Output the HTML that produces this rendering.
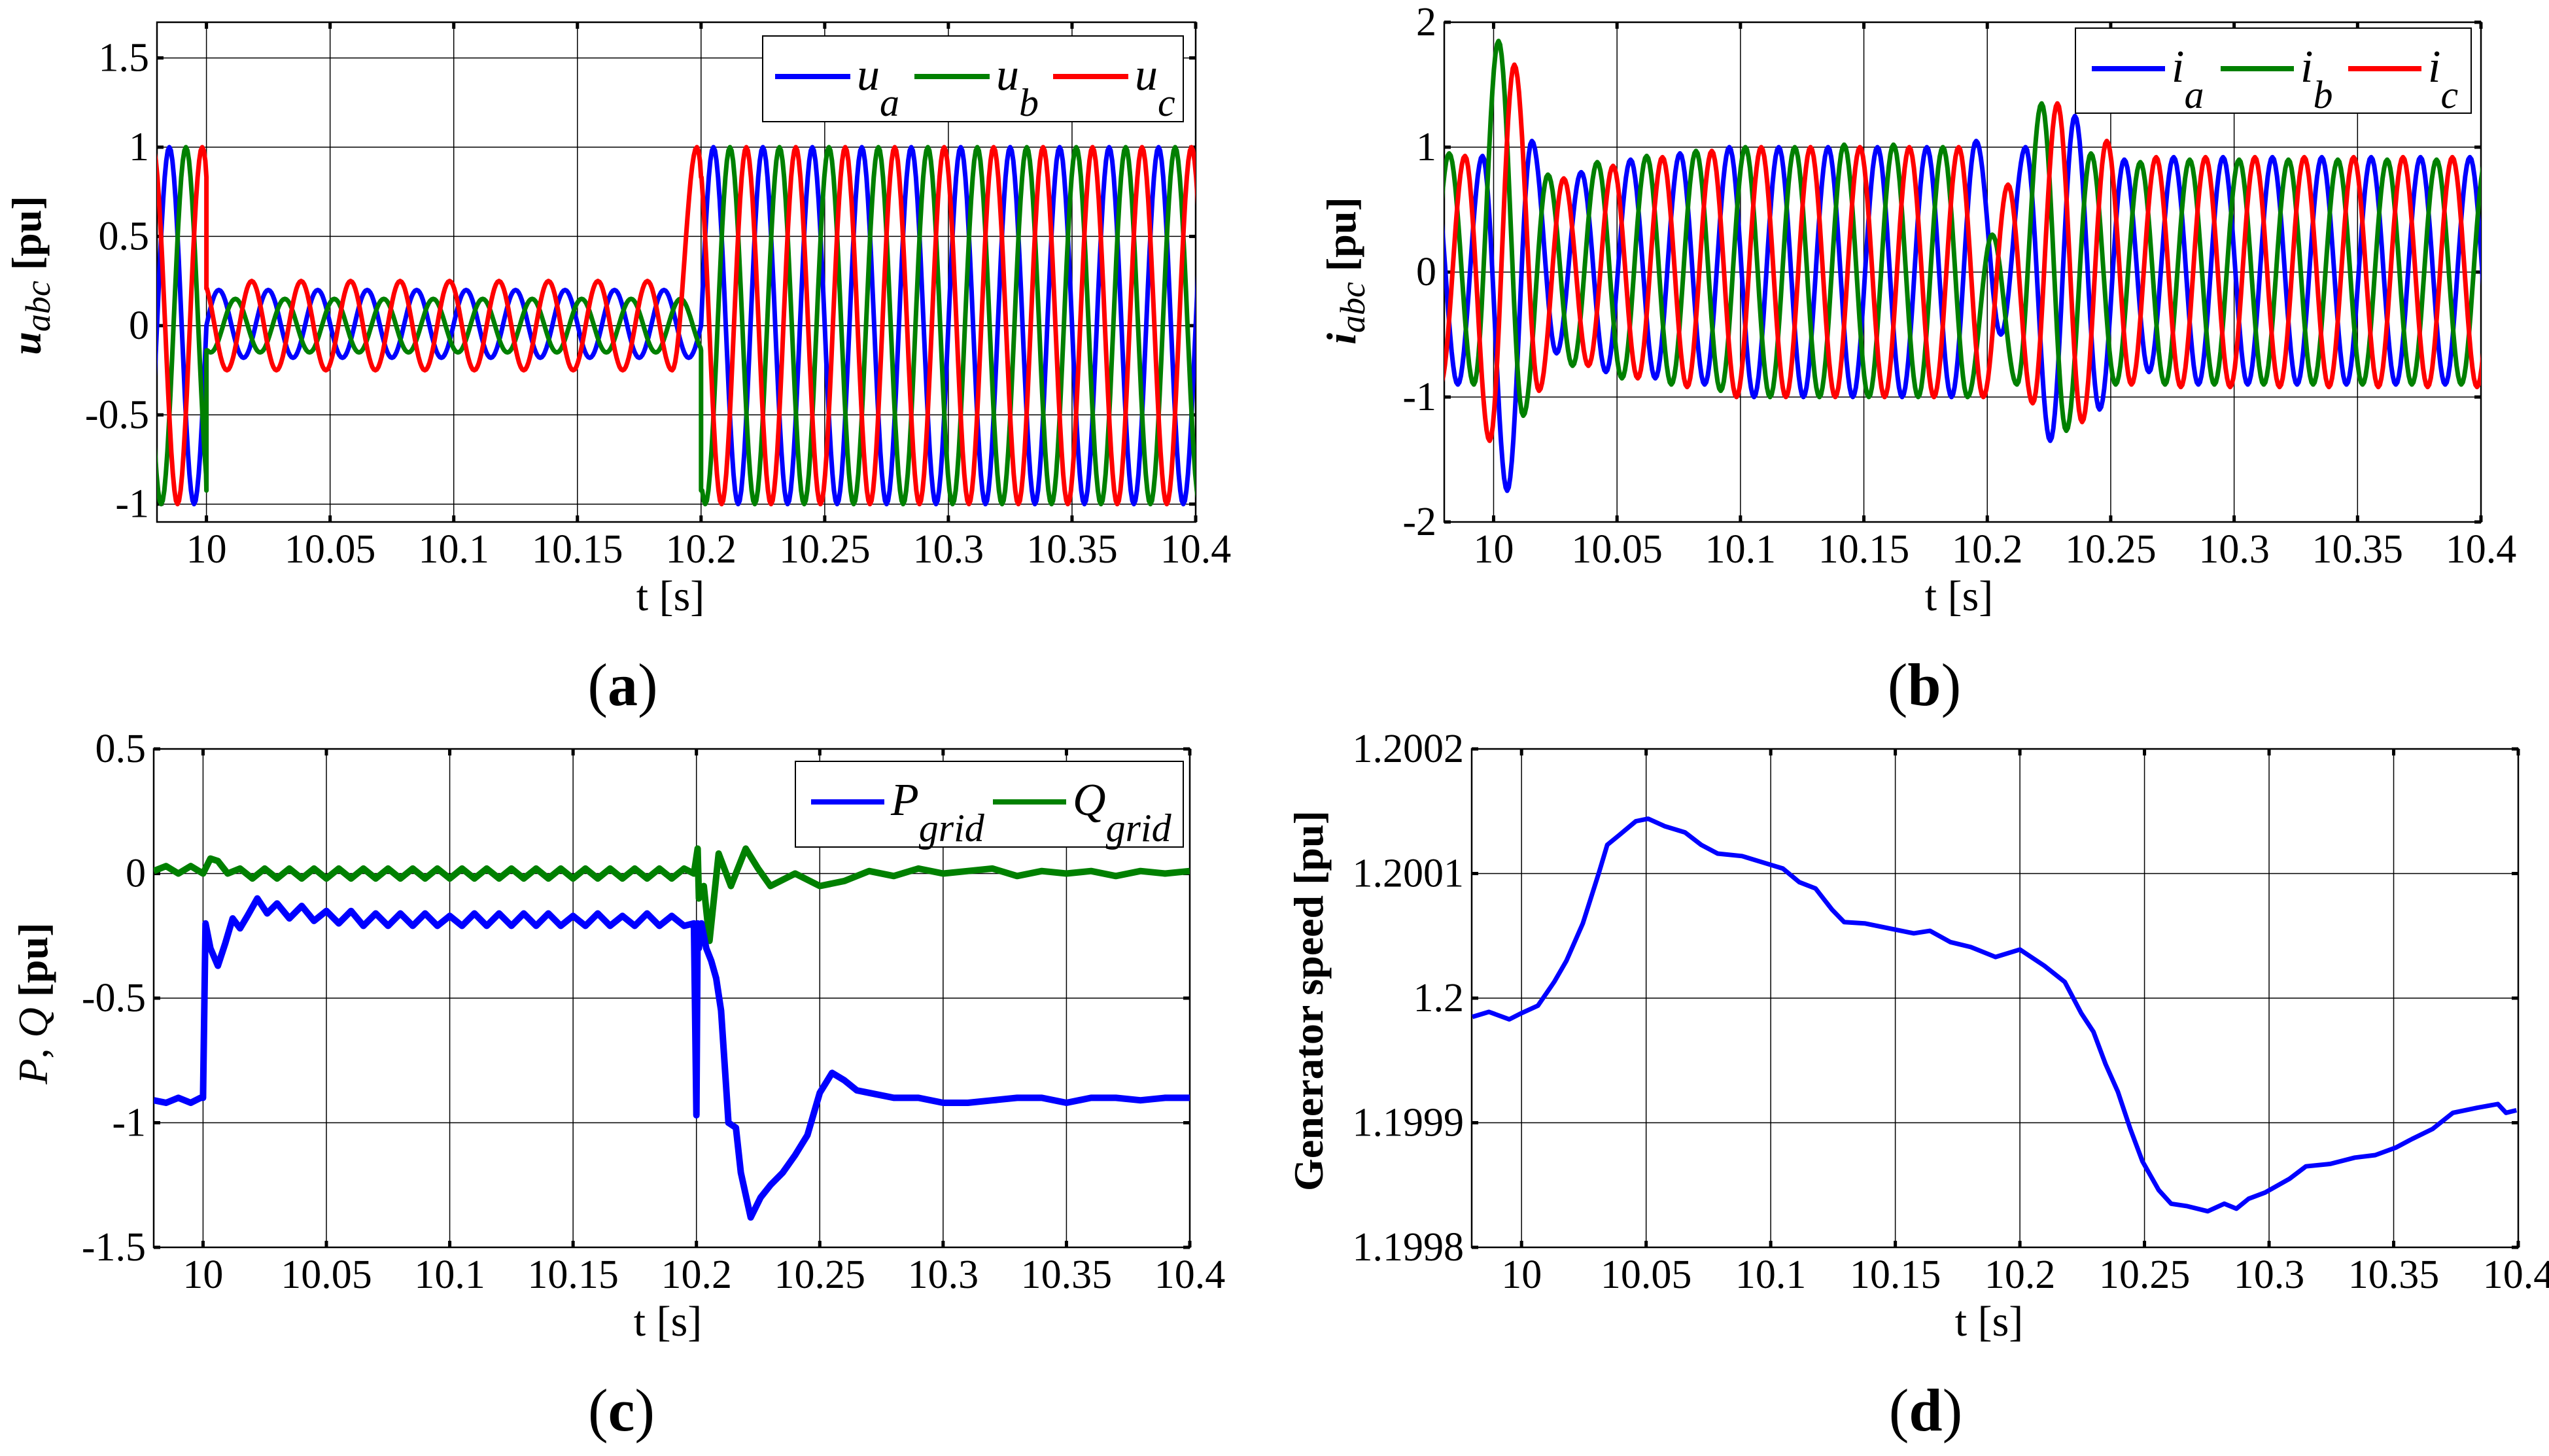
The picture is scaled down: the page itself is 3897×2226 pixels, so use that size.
<!DOCTYPE html>
<html><head><meta charset="utf-8">
<style>
html,body{margin:0;padding:0;background:#fff;}
svg{display:block;}
</style></head>
<body>
<svg id="fig" xmlns="http://www.w3.org/2000/svg" width="3897" height="2226" viewBox="0 0 3897 2226" font-family="'Liberation Serif', serif">
<rect x="0" y="0" width="3897" height="2226" fill="#fff"/>
</svg>
<script>
// ---------- shared axis data ----------
const xTicks = [10, 10.05, 10.1, 10.15, 10.2, 10.25, 10.3, 10.35, 10.4];
const xTickLabels = ["10","10.05","10.1","10.15","10.2","10.25","10.3","10.35","10.4"];

// ---------- panel (a): voltage extrema (one value per half cycle, 50 Hz) ----------
const uaT0 = 9.965, ubT0 = 9.9717, ucT0 = 9.9783;
const uSteps = [10.0, 10.2];
const uaExt = [1,-1,1,-1, 0.2,-0.18,0.2,-0.18,0.2,-0.18,0.2,-0.18,0.2,-0.18,0.2,-0.18,0.2,-0.18,0.2,-0.18,0.2,-0.18,0.2,-0.18,
  1,-1,1,-1,1,-1,1,-1,1,-1,1,-1,1,-1,1,-1,1,-1,1,-1,1,-1];
const ubExt = [1,-1,1, -0.15,0.15,-0.15,0.15,-0.15,0.15,-0.15,0.15,-0.15,0.15,-0.15,0.15,-0.15,0.15,-0.15,0.15,-0.15,0.15,-0.15,0.15,
  -1,1,-1,1,-1,1,-1,1,-1,1,-1,1,-1,1,-1,1,-1,1,-1,1,-1,1];
const ucExt = [1,-1,1, -0.25,0.25,-0.25,0.25,-0.25,0.25,-0.25,0.25,-0.25,0.25,-0.25,0.25,-0.25,0.25,-0.25,0.25,-0.25,0.25,-0.25,
  1,-1,1,-1,1,-1,1,-1,1,-1,1,-1,1,-1,1,-1,1,-1,1,-1,1,-1,1];
const uYTicks = [-1,-0.5,0,0.5,1,1.5];
const uYTickLabels = ["-1","-0.5","0","0.5","1","1.5"];

// ---------- panel (b): current extrema ----------
const iaT0 = 9.9655, ibT0 = 9.962, icT0 = 9.9584;
const iSteps = [];
const iaExt = [-0.9,0.9,-0.9,0.93,-1.75,1.05,-0.65,0.8,-0.8,0.9,-0.85,0.95,-0.9,1.0,-1,1,-1,1,-1,1,-1,1,-1,1.05,
  -0.5,1.0,-1.35,1.25,-1.1,0.9,-0.8,0.92,-0.9,0.92,-0.9,0.92,-0.9,0.92,-0.9,0.92,-0.9,0.92,-0.9,0.92,-0.9];
const ibExt = [0.9,-0.9,0.95,-0.9,1.85,-1.15,0.78,-0.75,0.88,-0.85,0.93,-0.9,0.97,-0.95,1.0,-1,1,-1,1.02,-1,1.02,-1,1.0,-1.0,
  0.3,-0.9,1.35,-1.27,0.95,-0.9,0.88,-0.9,0.9,-0.9,0.9,-0.9,0.9,-0.9,0.9,-0.9,0.9,-0.9,0.9,-0.9,0.9,-0.9];
const icExt = [-0.85,0.9,-0.9,0.93,-1.35,1.66,-0.95,0.75,-0.75,0.85,-0.85,0.92,-0.92,0.97,-1.0,1.0,-1.0,1.0,-1.0,1.0,-1.0,1.0,-1.0,1.0,-1.0,
  0.7,-1.05,1.35,-1.2,1.05,-0.9,0.92,-0.92,0.92,-0.92,0.92,-0.92,0.92,-0.92,0.92,-0.92,0.92,-0.92,0.92,-0.92,0.92];
const iYTicks = [-2,-1,0,1,2];
const iYTickLabels = ["-2","-1","0","1","2"];

// ---------- panel (c): P and Q ----------
const pT = [9.98,9.985,9.99,9.995,9.999,10.0,10.001,10.003,10.006,10.009,10.012,10.015,10.018,10.022,10.026,10.03,10.035,10.04,10.045,10.05,10.055,10.06,10.065,10.07,10.075,10.08,10.085,10.09,10.095,10.1,10.105,10.11,10.115,10.12,10.125,10.13,10.135,10.14,10.145,10.15,10.155,10.16,10.165,10.17,10.175,10.18,10.185,10.19,10.195,10.199,
  10.2,10.2005,10.201,10.202,10.204,10.206,10.208,10.21,10.212,10.213,10.216,10.218,10.222,10.226,10.23,10.235,10.24,10.245,10.25,10.255,10.26,10.265,10.27,10.28,10.29,10.3,10.31,10.32,10.33,10.34,10.35,10.36,10.37,10.38,10.39,10.4];
const pV = [-0.91,-0.92,-0.9,-0.92,-0.9,-0.9,-0.2,-0.3,-0.37,-0.28,-0.18,-0.22,-0.17,-0.1,-0.16,-0.12,-0.18,-0.13,-0.19,-0.15,-0.2,-0.15,-0.21,-0.16,-0.21,-0.16,-0.21,-0.16,-0.21,-0.17,-0.21,-0.16,-0.21,-0.16,-0.21,-0.16,-0.21,-0.16,-0.21,-0.17,-0.21,-0.16,-0.21,-0.17,-0.21,-0.16,-0.21,-0.17,-0.21,-0.2,
  -0.97,-0.2,-0.3,-0.2,-0.3,-0.35,-0.42,-0.55,-0.85,-1.0,-1.02,-1.2,-1.38,-1.3,-1.25,-1.2,-1.13,-1.05,-0.88,-0.8,-0.83,-0.87,-0.88,-0.9,-0.9,-0.92,-0.92,-0.91,-0.9,-0.9,-0.92,-0.9,-0.9,-0.91,-0.9,-0.9];
const qT = [9.98,9.985,9.99,9.995,10.0,10.003,10.006,10.01,10.015,10.02,10.025,10.03,10.035,10.04,10.045,10.05,10.055,10.06,10.065,10.07,10.075,10.08,10.085,10.09,10.095,10.1,10.105,10.11,10.115,10.12,10.125,10.13,10.135,10.14,10.145,10.15,10.155,10.16,10.165,10.17,10.175,10.18,10.185,10.19,10.195,10.199,
  10.2005,10.201,10.203,10.2053,10.209,10.214,10.22,10.225,10.23,10.24,10.25,10.26,10.27,10.28,10.29,10.3,10.31,10.32,10.33,10.34,10.35,10.36,10.37,10.38,10.39,10.4];
const qV = [0.01,0.03,0.0,0.03,0.0,0.06,0.05,0.0,0.02,-0.02,0.02,-0.02,0.02,-0.02,0.02,-0.02,0.02,-0.02,0.02,-0.02,0.02,-0.02,0.02,-0.02,0.02,-0.02,0.02,-0.02,0.02,-0.02,0.02,-0.02,0.02,-0.02,0.02,-0.02,0.02,-0.02,0.02,-0.02,0.02,-0.02,0.02,-0.02,0.02,0.0,
  0.1,-0.1,-0.05,-0.27,0.08,-0.05,0.1,0.02,-0.05,0.0,-0.05,-0.03,0.01,-0.01,0.02,0.0,0.01,0.02,-0.01,0.01,0.0,0.01,-0.01,0.01,0.0,0.01];
const pqYTicks = [-1.5,-1,-0.5,0,0.5];
const pqYTickLabels = ["-1.5","-1","-0.5","0","0.5"];

// ---------- panel (d): generator speed ----------
const wT = [9.9803,9.9869,9.9951,10.0,10.0066,10.0131,10.018,10.0246,10.0311,10.0344,10.0393,10.0459,10.0508,10.0574,10.0656,10.0721,10.0787,10.0885,10.0984,10.1049,10.1115,10.118,10.1246,10.1295,10.1377,10.1475,10.1574,10.1639,10.1721,10.1803,10.1902,10.2,10.2098,10.218,10.2246,10.2295,10.2344,10.2393,10.2443,10.2492,10.2557,10.2607,10.2672,10.2754,10.282,10.2869,10.2918,10.2984,10.3082,10.3148,10.3246,10.3344,10.3426,10.3508,10.3574,10.3656,10.3738,10.3836,10.3918,10.3951,10.3993];
const wV = [1.199985,1.199989,1.199983,1.199988,1.199994,1.200013,1.20003,1.20006,1.200101,1.200123,1.200131,1.200142,1.200144,1.200138,1.200133,1.200123,1.200116,1.200114,1.200108,1.200104,1.200093,1.200088,1.200071,1.200061,1.20006,1.200056,1.200052,1.200054,1.200045,1.200041,1.200033,1.200039,1.200026,1.200013,1.199988,1.199973,1.199947,1.199925,1.199895,1.199869,1.199846,1.199835,1.199833,1.199829,1.199835,1.199831,1.199839,1.199844,1.199855,1.199865,1.199867,1.199872,1.199874,1.19988,1.199887,1.199895,1.199908,1.199912,1.199915,1.199908,1.19991];
const wYTicks = [1.1998,1.1999,1.2,1.2001,1.2002];
const wYTickLabels = ["1.1998","1.1999","1.2","1.2001","1.2002"];

// ---------- drawing helpers ----------
const NS = "http://www.w3.org/2000/svg";
const svg = document.getElementById("fig");
const SERIF = "'Liberation Serif', 'Times New Roman', serif";
function mk(tag, attrs, parent){
  const e = document.createElementNS(NS, tag);
  for (const k in attrs) e.setAttribute(k, attrs[k]);
  if (tag === "text") e.setAttribute("font-family", SERIF);
  (parent||svg).appendChild(e);
  return e;
}
function makeAxes(p){
  const sx = v => p.left + (v - p.x0) / (p.x1 - p.x0) * (p.right - p.left);
  const sy = v => p.bottom - (v - p.y0) / (p.y1 - p.y0) * (p.bottom - p.top);
  return {sx, sy};
}
function drawFrame(p, ax, yTicks, yLabels){
  const g = mk("g", {});
  
  
  xTicks.forEach((t) => {
    const x = ax.sx(t);
    const l = mk("line", {x1:x, x2:x, y1:p.top, y2:p.bottom, stroke:"#000", "stroke-width":1.5}, g);
    
    
    mk("line", {x1:x, x2:x, y1:p.top, y2:p.top+10, stroke:"#000", "stroke-width":5}, g);
    mk("line", {x1:x, x2:x, y1:p.bottom-10, y2:p.bottom, stroke:"#000", "stroke-width":5}, g);
  });
  yTicks.forEach((t) => {
    const y = ax.sy(t);
    const l = mk("line", {x1:p.left, x2:p.right, y1:y, y2:y, stroke:"#000", "stroke-width":1.5}, g);
    
    
    mk("line", {x1:p.left, x2:p.left+10, y1:y, y2:y, stroke:"#000", "stroke-width":5}, g);
    mk("line", {x1:p.right-10, x2:p.right, y1:y, y2:y, stroke:"#000", "stroke-width":5}, g);
  });
  mk("rect", {x:p.left, y:p.top, width:p.right-p.left, height:p.bottom-p.top, fill:"none", stroke:"#000", "stroke-width":2.5}, g);
  xTicks.forEach((t, i) => {
    const tx = mk("text", {x:ax.sx(t), y:p.bottom+62, "font-size":62, "text-anchor":"middle"}, g);
    tx.textContent = xTickLabels[i];
    
    
  });
  yTicks.forEach((t, i) => {
    const tx = mk("text", {x:p.left-12, y:ax.sy(t)+20, "font-size":62, "text-anchor":"end"}, g);
    tx.textContent = yLabels[i];
    
    
  });
  const xl = mk("text", {x:p.xlx, y:p.bottom+135, "font-size":66, "text-anchor":"middle"}, g);
  xl.textContent = "t [s]";
  
  
  const cap = mk("text", {x:p.capx, y:p.bottom+280, "font-size":92, "text-anchor":"middle"}, g);
  cap.innerHTML = '(<tspan font-weight="bold">' + p.cap + '</tspan>)';
  
  
  const cp = mk("clipPath", {id:"clip-" + p.name});
  mk("rect", {x:p.left, y:p.top, width:p.right-p.left, height:p.bottom-p.top}, cp);
}
function waveFromExtrema(ax, t0, ext, steps){
  let d = "";
  for (let i = 0; i < ext.length - 1; i++){
    const ta = t0 + 0.01 * i, a = ext[i], b = ext[i+1];
    const step = steps.find(s => s > ta && s <= ta + 0.01);
    const N = 16;
    for (let k = (i === 0 ? 0 : 1); k <= N; k++){
      const s = k / N, t = ta + 0.01 * s;
      let v;
      if (step !== undefined){
        const c = Math.sign(a) * Math.cos(Math.PI * s);
        if (k > 0 && t >= step && (ta + 0.01 * (k-1)/N) < step){
          // vertical jump at step
          v = c * Math.abs(a);
          d += "L" + ax.sx(step).toFixed(1) + "," + ax.sy(v).toFixed(1);
          d += "L" + ax.sx(step).toFixed(1) + "," + ax.sy(c * Math.abs(b)).toFixed(1);
        }
        v = c * (t < step ? Math.abs(a) : Math.abs(b));
      } else {
        v = (a + b) / 2 + (a - b) / 2 * Math.cos(Math.PI * s);
      }
      d += (d ? "L" : "M") + ax.sx(t).toFixed(1) + "," + ax.sy(v).toFixed(1);
    }
  }
  return d;
}
function seriesPath(ax, ts, vs){
  return ts.map((t, i) => (i ? "L" : "M") + ax.sx(t).toFixed(1) + "," + ax.sy(vs[i]).toFixed(1)).join("");
}
function addPath(p, d, color, name, w){
  const e = mk("path", {d:d, fill:"none", stroke:color, "stroke-width":w||7, "stroke-linejoin":"round", "clip-path":"url(#clip-" + p.name + ")"});
  
  
  return e;
}
function legend(box, entries, name){
  const g = mk("g", {});
  
  
  mk("rect", {x:box.x, y:box.y, width:box.w, height:box.h, fill:"#fff", stroke:"#000", "stroke-width":2}, g);
  entries.forEach(en => {
    const l = mk("line", {x1:en.x, x2:en.x+en.len, y1:box.y+box.ly, y2:box.y+box.ly, stroke:en.c, "stroke-width":8}, g);
    
    
    const t = mk("text", {x:en.x+en.len+10, y:box.y+box.ly+20, "font-size":70, "font-style":"italic"}, g);
    t.innerHTML = en.main + '<tspan dy="40" font-size="60">' + en.sub + '</tspan>';
    
    
  });
}
function ylabel(x, y, html, name){
  const t = mk("text", {x:0, y:0, "font-size":64, "text-anchor":"middle", transform:"translate(" + x + "," + y + ") rotate(-90)"});
  t.innerHTML = html;
  
  
}

// ---------- panel (a) ----------
const PA = {name:"panel-a", left:240, right:1828, top:34, bottom:798, x0:9.98, x1:10.4, y0:-1.1, y1:1.7, xlx:1025, capx:952, cap:"a"};
const axA = makeAxes(PA);
drawFrame(PA, axA, uYTicks, uYTickLabels);
addPath(PA, waveFromExtrema(axA, uaT0, uaExt, uSteps), "#0000ff", "series-ua");
addPath(PA, waveFromExtrema(axA, ubT0, ubExt, uSteps), "#008000", "series-ub");
addPath(PA, waveFromExtrema(axA, ucT0, ucExt, uSteps), "#ff0000", "series-uc");
legend({x:1166, y:55, w:643, h:131, ly:62}, [
  {x:1185, len:115, c:"#0000ff", main:"u", sub:"a"},
  {x:1398, len:115, c:"#008000", main:"u", sub:"b"},
  {x:1610, len:115, c:"#ff0000", main:"u", sub:"c"}], "legend-a");
ylabel(62, 421, '<tspan font-weight="bold" font-style="italic">u</tspan><tspan font-style="italic" font-size="54" dy="14">abc</tspan><tspan dy="-14" font-weight="bold"> [pu]</tspan>', "y-axis-title-a");

// ---------- panel (b) ----------
const PB = {name:"panel-b", left:2208, right:3793, top:34, bottom:798, x0:9.98, x1:10.4, y0:-2, y1:2, xlx:2995, capx:2942, cap:"b"};
const axB = makeAxes(PB);
drawFrame(PB, axB, iYTicks, iYTickLabels);
addPath(PB, waveFromExtrema(axB, iaT0, iaExt, iSteps), "#0000ff", "series-ia");
addPath(PB, waveFromExtrema(axB, ibT0, ibExt, iSteps), "#008000", "series-ib");
addPath(PB, waveFromExtrema(axB, icT0, icExt, iSteps), "#ff0000", "series-ic");
legend({x:3173, y:43, w:605, h:130, ly:62}, [
  {x:3198, len:112, c:"#0000ff", main:"i", sub:"a"},
  {x:3395, len:112, c:"#008000", main:"i", sub:"b"},
  {x:3590, len:112, c:"#ff0000", main:"i", sub:"c"}], "legend-b");
ylabel(2072, 414, '<tspan font-weight="bold" font-style="italic">i</tspan><tspan font-style="italic" font-size="54" dy="14">abc</tspan><tspan dy="-14" font-weight="bold"> [pu]</tspan>', "y-axis-title-b");

// ---------- panel (c) ----------
const PC = {name:"panel-c", left:235, right:1819, top:1145, bottom:1907, x0:9.98, x1:10.4, y0:-1.5, y1:0.5, xlx:1021, capx:950, cap:"c"};
const axC = makeAxes(PC);
drawFrame(PC, axC, pqYTicks, pqYTickLabels);
addPath(PC, seriesPath(axC, qT, qV), "#008000", "series-q-grid", 10);
addPath(PC, seriesPath(axC, pT, pV), "#0000ff", "series-p-grid", 10);
legend({x:1216, y:1164, w:593, h:131, ly:62}, [
  {x:1240, len:112, c:"#0000ff", main:"P", sub:"grid"},
  {x:1518, len:112, c:"#008000", main:"Q", sub:"grid"}], "legend-c");
ylabel(72, 1534, '<tspan font-style="italic">P</tspan>, <tspan font-style="italic">Q</tspan> <tspan font-weight="bold">[pu]</tspan>', "y-axis-title-c");

// ---------- panel (d) ----------
const PD = {name:"panel-d", left:2250, right:3850, top:1145, bottom:1907, x0:9.98, x1:10.4, y0:1.1998, y1:1.2002, xlx:3041, capx:2944, cap:"d"};
const axD = makeAxes(PD);
drawFrame(PD, axD, wYTicks, wYTickLabels);
addPath(PD, seriesPath(axD, wT, wV), "#0000ff", "series-generator-speed", 7);
ylabel(2022, 1530, '<tspan font-weight="bold">Generator speed [pu]</tspan>', "y-axis-title-d");
</script>
</body></html>
